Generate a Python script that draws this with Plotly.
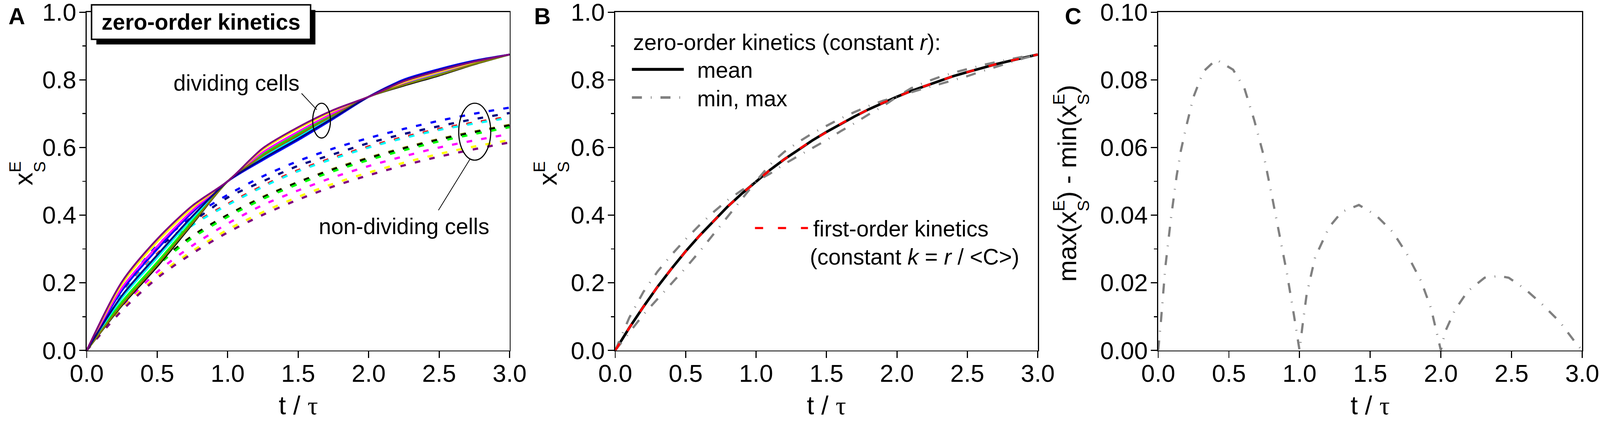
import plotly.graph_objects as go

W, H = 4317, 1131
FONT = "Liberation Sans, Arial, sans-serif"

# ---------------- data ----------------
# panel A, read at quarter steps of t / tau
t_q = [0.0, 0.25, 0.5, 0.75, 1.0, 1.25, 1.5, 1.75, 2.0, 2.25, 2.5, 2.75, 3.0]

# dividing cells (solid lines)
div_black = [0, .133, .248, .374, .5, .575, .635, .694, .75, .783, .813, .846, .875]
div_red = [0, .159, .278, .394, .5, .584, .645, .701, .75, .789, .819, .849, .875]
div_green = [0, .144, .261, .383, .5, .580, .641, .698, .75, .787, .817, .848, .875]
div_blue = [0, .177, .299, .408, .5, .563, .622, .685, .75, .801, .832, .857, .875]
div_cyan = [0, .155, .274, .391, .5, .571, .630, .691, .75, .790, .821, .850, .875]
div_magenta = [0, .185, .308, .414, .5, .586, .647, .702, .75, .791, .822, .851, .875]
div_yellow = [0, .196, .321, .422, .5, .594, .656, .708, .75, .793, .824, .852, .875]
div_olive = [0, .136, .253, .377, .5, .576, .637, .695, .75, .785, .815, .847, .875]
div_navy = [0, .162, .282, .397, .5, .567, .626, .688, .75, .798, .829, .855, .875]
div_purple = [0, .203, .329, .428, .5, .598, .660, .711, .75, .796, .827, .854, .875]

# non-dividing cells (dashed lines)
nd_black = [0, .142, .254, .338, .400, .452, .497, .535, .568, .597, .623, .645, .665]
nd_red = [0, .167, .286, .373, .433, .487, .533, .570, .603, .631, .655, .674, .691]
nd_green = [0, .140, .250, .333, .395, .448, .492, .530, .563, .592, .618, .640, .660]
nd_blue = [0, .180, .310, .395, .460, .515, .560, .597, .628, .655, .679, .700, .718]
nd_cyan = [0, .165, .283, .370, .430, .484, .530, .567, .600, .628, .652, .671, .688]
nd_magenta = [0, .130, .232, .310, .375, .430, .473, .512, .545, .574, .600, .621, .640]
nd_yellow = [0, .122, .220, .294, .357, .409, .454, .493, .526, .555, .581, .603, .622]
nd_olive = [0, .143, .255, .339, .401, .454, .498, .537, .570, .599, .625, .647, .667]
nd_navy = [0, .175, .300, .380, .452, .500, .546, .580, .613, .640, .663, .684, .702]
nd_purple = [0, .118, .214, .287, .349, .401, .446, .485, .518, .547, .573, .595, .615]

colors = {"black": "#000000", "red": "#FF0000", "green": "#00FF00", "blue": "#0000FF",
          "cyan": "#00FFFF", "magenta": "#FF00FF", "yellow": "#FFFF00", "olive": "#808000",
          "navy": "#000080", "purple": "#800080"}
dividing = {"black": div_black, "red": div_red, "green": div_green, "blue": div_blue,
            "cyan": div_cyan, "magenta": div_magenta, "yellow": div_yellow,
            "olive": div_olive, "navy": div_navy, "purple": div_purple}
non_dividing = {"black": nd_black, "red": nd_red, "green": nd_green, "blue": nd_blue,
                "cyan": nd_cyan, "magenta": nd_magenta, "yellow": nd_yellow,
                "olive": nd_olive, "navy": nd_navy, "purple": nd_purple}

# panel B
t_b = [0.0, 0.1, 0.2, 0.3, 0.4, 0.5, 0.6, 0.7, 0.8, 0.9, 1.0,
       1.1, 1.2, 1.3, 1.4, 1.5, 1.6, 1.7, 1.8, 1.9, 2.0,
       2.1, 2.2, 2.3, 2.4, 2.5, 2.6, 2.7, 2.8, 2.9, 3.0]
mean_b = [0, .067, .129, .188, .242, .293, .340, .384, .426, .464, .500,
          .534, .565, .594, .621, .646, .670, .692, .713, .732, .750,
          .767, .782, .797, .811, .823, .835, .846, .856, .866, .875]
max_b = [0, .097, .173, .233, .283, .329, .371, .410, .445, .474, .500,
         .550, .587, .616, .642, .664, .686, .705, .723, .738, .750,
         .775, .793, .808, .821, .832, .843, .852, .861, .869, .875]
min_b = [0, .054, .106, .152, .197, .244, .293, .345, .398, .450, .500,
         .523, .551, .575, .599, .622, .648, .672, .698, .722, .750,
         .763, .776, .787, .799, .811, .825, .838, .851, .864, .875]
first_order_b = [0, .067, .129, .188, .242, .293, .340, .384, .426, .464, .500,
                 .534, .565, .594, .621, .646, .670, .692, .713, .732, .750,
                 .767, .782, .797, .811, .823, .835, .846, .856, .866, .875]

# panel C
t_c = [0.00, 0.02, 0.05, 0.09, 0.13, 0.16, 0.20, 0.25, 0.32, 0.41, 0.53, 0.61, 0.68, 0.75,
       0.81, 0.86, 0.91, 0.96, 1.00, 1.02, 1.05, 1.11, 1.21, 1.30, 1.42, 1.54, 1.66, 1.76,
       1.86, 1.93, 2.00, 2.03, 2.10, 2.19, 2.31, 2.41, 2.48, 2.60, 2.72, 2.84, 2.94, 3.00]
range_c = [0.000, 0.009, 0.0245, 0.039, 0.0515, 0.059, 0.0665, 0.075, 0.0825, 0.086, 0.083,
           0.0775, 0.068, 0.057, 0.0445, 0.034, 0.023, 0.0105, 0.000, 0.007, 0.0165, 0.0275,
           0.0365, 0.041, 0.043, 0.040, 0.035, 0.0285, 0.0205, 0.0125, 0.000, 0.0055, 0.012,
           0.0175, 0.0215, 0.022, 0.0215, 0.018, 0.0135, 0.0085, 0.003, 0.000]

# tick positions and labels
x_ticks = [0.0, 0.5, 1.0, 1.5, 2.0, 2.5, 3.0]
x_labels = ["0.0", "0.5", "1.0", "1.5", "2.0", "2.5", "3.0"]
y_ticks = [0.0, 0.2, 0.4, 0.6, 0.8, 1.0]
y_labels = ["0.0", "0.2", "0.4", "0.6", "0.8", "1.0"]
y_minor = [0.1, 0.3, 0.5, 0.7, 0.9]
c_ticks = [0.0, 0.02, 0.04, 0.06, 0.08, 0.10]
c_labels = ["0.00", "0.02", "0.04", "0.06", "0.08", "0.10"]
c_minor = [0.01, 0.03, 0.05, 0.07, 0.09]


def fx(px):
    return px / W


def fy(py):
    return 1 - py / H


GRAY_DASH = "27px,24px,2px,24px"

fig = go.Figure()

# A: non-dividing first (below), then dividing
for name in ["blue", "navy", "red", "cyan", "olive", "black", "green", "magenta", "yellow", "purple"]:
    fig.add_trace(go.Scatter(x=t_q, y=non_dividing[name], mode="lines", xaxis="x", yaxis="y",
                             line=dict(color=colors[name], width=6, dash="15px,25px",
                                       shape="spline", smoothing=0.8)))
for name in ["black", "red", "green", "blue", "cyan", "magenta", "yellow", "olive", "navy", "purple"]:
    fig.add_trace(go.Scatter(x=t_q, y=dividing[name], mode="lines", xaxis="x", yaxis="y",
                             line=dict(color=colors[name], width=5, shape="spline", smoothing=0.8)))

# B
fig.add_trace(go.Scatter(x=t_b, y=mean_b, mode="lines", xaxis="x2", yaxis="y2",
                         line=dict(color="black", width=7)))
fig.add_trace(go.Scatter(x=t_b, y=max_b, mode="lines", xaxis="x2", yaxis="y2",
                         line=dict(color="#808080", width=6, dash=GRAY_DASH)))
fig.add_trace(go.Scatter(x=t_b, y=min_b, mode="lines", xaxis="x2", yaxis="y2",
                         line=dict(color="#808080", width=6, dash=GRAY_DASH)))
fig.add_trace(go.Scatter(x=t_b, y=first_order_b, mode="lines", xaxis="x2", yaxis="y2",
                         line=dict(color="#FF0000", width=6, dash="22px,40px")))

# C
fig.add_trace(go.Scatter(x=t_c, y=range_c, mode="lines", xaxis="x3", yaxis="y3",
                         line=dict(color="#808080", width=6, dash=GRAY_DASH)))

tickfont = dict(family=FONT, size=66, color="black")
base = dict(showline=True, linecolor="black", linewidth=3, mirror=True, ticks="outside",
            ticklen=17, tickwidth=3, tickcolor="black", showgrid=False, zeroline=False,
            tickfont=tickfont, automargin=False, ticklabeloverflow="allow")
xax = dict(base, range=[0, 3], tickmode="array", tickvals=x_ticks, ticktext=x_labels,
           ticklabelstandoff=-15)
yax = dict(base, range=[0, 1], tickmode="array", tickvals=y_ticks, ticktext=y_labels,
           ticklabelstandoff=-5,
           minor=dict(ticks="outside", ticklen=9, tickwidth=3, tickcolor="black",
                      tickmode="array", tickvals=y_minor, showgrid=False))
ydom = [fy(945), fy(33)]

fig.update_layout(
    width=W, height=H, autosize=False, showlegend=False,
    paper_bgcolor="white", plot_bgcolor="white",
    margin=dict(l=0, r=0, t=0, b=0, pad=0, autoexpand=False),
    xaxis=dict(xax, domain=[fx(234), fx(1375)], anchor="y"),
    yaxis=dict(yax, domain=ydom, anchor="x"),
    xaxis2=dict(xax, domain=[fx(1660), fx(2800)], anchor="y2"),
    yaxis2=dict(yax, domain=ydom, anchor="x2"),
    xaxis3=dict(xax, domain=[fx(3125), fx(4269)], anchor="y3"),
    yaxis3=dict(yax, domain=ydom, anchor="x3", range=[0, 0.1], tickvals=c_ticks,
                ticktext=c_labels,
                minor=dict(ticks="outside", ticklen=9, tickwidth=3, tickcolor="black",
                           tickmode="array", tickvals=c_minor, showgrid=False)),
)

ann = []


def text(px, py, s, size=60, anchor="center", bold=False, angle=0):
    ann.append(dict(x=fx(px), y=fy(py), xref="paper", yref="paper", text=s, showarrow=False,
                    xanchor=anchor, yanchor="middle", textangle=angle, borderpad=0,
                    font=dict(family=FONT, size=size, color="black",
                              weight="bold" if bold else "normal")))


# panel letters
text(45, 43, "A", size=62, bold=True)
text(1463, 43, "B", size=62, bold=True)
text(2895, 43, "C", size=62, bold=True)

# x titles
tau = "t / <span style=\"font-family:'Liberation Serif'\">τ</span>"
for cx in [(234 + 1375) / 2, (1660 + 2800) / 2, (3125 + 4269) / 2]:
    text(cx, 1093, tau, size=70)


# y titles: x with stacked sub S / sup E, rotated
def x_se(x0, ycen):
    text(x0 - 6, ycen, "x", size=70, angle=-90)
    text(x0 + 36, ycen - 33, "S", size=45, angle=-90)
    text(x0 - 30, ycen - 33, "E", size=45, angle=-90)


x_se(70, 483)
x_se(1484, 483)

# panel C y title built from pieces
cx0 = 2886
text(cx0 - 6, 665, "max(x", size=70, angle=-90)
text(cx0 + 36, 555, "S", size=45, angle=-90)
text(cx0 - 30, 555, "E", size=45, angle=-90)
text(cx0 - 6, 411, ") - min(x", size=70, angle=-90)
text(cx0 + 36, 268, "S", size=45, angle=-90)
text(cx0 - 30, 268, "E", size=45, angle=-90)
text(cx0 - 6, 241, ")", size=70, angle=-90)

# panel A labels
text(542, 60, "zero-order kinetics", size=60, bold=True)
text(638, 224, "dividing cells", size=60)
text(1090, 610, "non-dividing cells", size=60)

# panel B legend texts
text(1707, 114, "zero-order kinetics (constant <i>r</i>):", size=60, anchor="left")
text(1880, 189, "mean", size=60, anchor="left")
text(1880, 266, "min, max", size=60, anchor="left")
text(2193, 617, "first-order kinetics", size=60, anchor="left")
text(2184, 693, "(constant <i>k</i> = <i>r</i> / &lt;C&gt;)", size=60, anchor="left")

shapes = [
    # label box with shadow
    dict(type="rect", xref="paper", yref="paper", x0=fx(260), x1=fx(851), y0=fy(120), y1=fy(27),
         fillcolor="black", line=dict(width=0), layer="above"),
    dict(type="rect", xref="paper", yref="paper", x0=fx(247), x1=fx(838), y0=fy(106), y1=fy(13),
         fillcolor="white", line=dict(color="black", width=4), layer="above"),
    # ellipses and pointers in panel A
    dict(type="circle", xref="x", yref="y", x0=1.603, x1=1.729, y0=0.628, y1=0.731,
         line=dict(color="black", width=3)),
    dict(type="line", xref="x", yref="y", x0=1.524, y0=0.760, x1=1.632, y1=0.712,
         line=dict(color="black", width=2)),
    dict(type="circle", xref="x", yref="y", x0=2.639, x1=2.866, y0=0.5625, y1=0.731,
         line=dict(color="black", width=3)),
    dict(type="line", xref="x", yref="y", x0=2.718, y0=0.565, x1=2.495, y1=0.4145,
         line=dict(color="black", width=2)),
    # legend samples in panel B
    dict(type="line", xref="paper", yref="paper", x0=fx(1705), x1=fx(1845), y0=fy(187), y1=fy(187),
         line=dict(color="black", width=8)),
    dict(type="line", xref="paper", yref="paper", x0=fx(1705), x1=fx(1845), y0=fy(263), y1=fy(263),
         line=dict(color="#808080", width=7, dash=GRAY_DASH)),
    dict(type="line", xref="paper", yref="paper", x0=fx(2037), x1=fx(2180), y0=fy(615), y1=fy(615),
         line=dict(color="#FF0000", width=6, dash="22px,40px")),
]

fig.update_layout(annotations=ann, shapes=shapes)

# the page may be narrower than the figure (zoomed screen): scale the plot to fit the window
fit_js = """
var gd = document.getElementById('{plot_id}');
document.documentElement.style.margin = '0';
document.body.style.margin = '0';
document.body.style.overflow = 'hidden';
var k = Math.min(window.innerWidth / %d, window.innerHeight / %d);
gd.style.transformOrigin = '0 0';
gd.style.transform = 'scale(' + k + ')';
""" % (W, H)

fig.write_html("out.html", post_script=fit_js, config={"displayModeBar": False})
